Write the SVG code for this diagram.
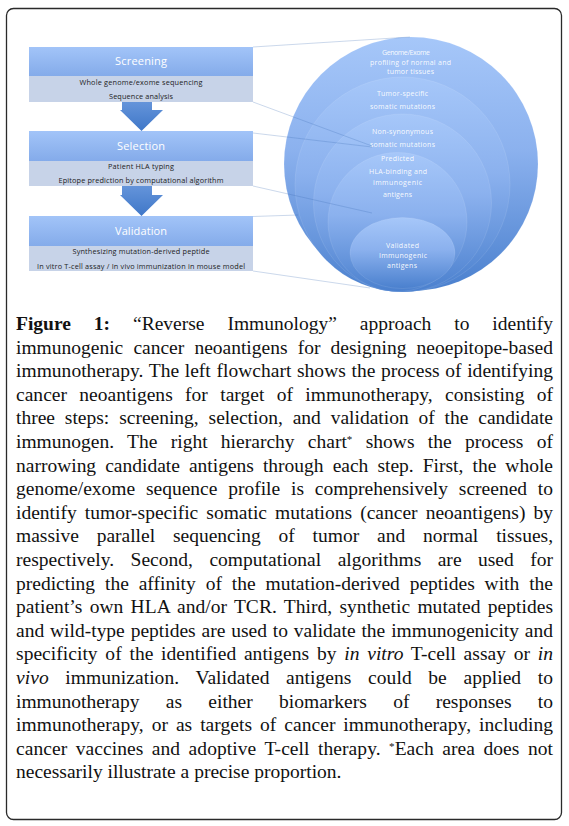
<svg xmlns="http://www.w3.org/2000/svg" width="569" height="826" viewBox="0 0 569 826">
<defs>
<linearGradient id="hdr" x1="0" y1="0" x2="0" y2="1"><stop offset="0" stop-color="#a2c4f8"/><stop offset="1" stop-color="#84abea"/></linearGradient>
<linearGradient id="arr" x1="0" y1="0" x2="0" y2="1"><stop offset="0" stop-color="#6494da"/><stop offset="1" stop-color="#3f77c8"/></linearGradient>
<linearGradient id="circ" x1="0" y1="0" x2="0" y2="1"><stop offset="0" stop-color="#a6c7f9"/><stop offset="0.45" stop-color="#8bb1ee"/><stop offset="1" stop-color="#4a80ce"/></linearGradient>
<style>
.hdr{fill:url(#hdr)}
.body{fill:#c7d3e8}
.arrow{fill:url(#arr)}
.ht{font-family:"Open Sans","Noto Sans",sans-serif;font-size:11px;fill:#ffffff;text-anchor:middle}
.bt{font-family:"Open Sans","Noto Sans",sans-serif;font-size:7.3px;fill:#1c1c1c;text-anchor:middle}
.circ{fill:url(#circ);stroke:#ffffff;stroke-opacity:0.12;stroke-width:0.8}
.ct{font-family:"Open Sans","Noto Sans",sans-serif;font-size:7px;fill:#ffffff;fill-opacity:0.95;text-anchor:middle}
.conn{stroke:#3d6fb5;stroke-opacity:0.3;stroke-width:0.9;fill:none}
.cap{font-family:"Liberation Serif","Times New Roman",serif;font-size:19.5px;fill:#111111}
.b{font-weight:bold}
.i{font-style:italic}
.sup{font-size:11px;baseline-shift:45%}
</style>
</defs>
<rect x="0" y="0" width="569" height="826" fill="#ffffff"/>
<rect id="frame" x="6.5" y="8.5" width="555" height="811" rx="7" ry="7" fill="none" stroke="#2a2a2a" stroke-width="1.3"/>

<g id="screening">
<rect class="hdr" x="29" y="47" width="224" height="29"/>
<rect class="body" x="29" y="76" width="224" height="26"/>
<text class="ht" x="141" y="65" textLength="52">Screening</text>
<text class="bt" x="141" y="84.7" textLength="123">Whole genome/exome sequencing</text>
<text class="bt" x="141" y="98.7" textLength="64">Sequence analysis</text>
</g>
<g id="arrow1"><polygon class="arrow" points="122,102 152,102 152,110 163,110 141.5,131 120,110 122,110"/></g>
<g id="selection">
<rect class="hdr" x="29" y="131" width="224" height="30"/>
<rect class="body" x="29" y="161" width="224" height="25"/>
<text class="ht" x="141" y="150" textLength="48">Selection</text>
<text class="bt" x="141" y="169.3" textLength="66">Patient HLA typing</text>
<text class="bt" x="141" y="183.3" textLength="165">Epitope prediction by computational algorithm</text>
</g>
<g id="arrow2"><polygon class="arrow" points="122,186 152,186 152,195 163,195 141.5,216 120,195 122,195"/></g>
<g id="validation">
<rect class="hdr" x="29" y="216" width="224" height="30"/>
<rect class="body" x="29" y="246" width="224" height="25"/>
<text class="ht" x="141" y="235" textLength="52">Validation</text>
<text class="bt" x="141" y="254.3" textLength="137">Synthesizing mutation-derived peptide</text>
<text class="bt" x="141" y="268.7" textLength="208">In vitro T-cell assay / In vivo immunization in mouse model</text>
</g>

<g id="circle-genome">
<circle class="circ" cx="411" cy="164" r="127"/>
<text class="ct" x="406" y="55.4" textLength="48">Genome/Exome</text>
<text class="ct" x="410.5" y="65.4" textLength="81">profiling of normal and</text>
<text class="ct" x="410.5" y="74.4" textLength="47">tumor tissues</text>
</g>
<g id="circle-tumor">
<circle class="circ" cx="402.5" cy="184.5" r="107.5"/>
<text class="ct" x="402.5" y="96.4" textLength="51">Tumor-specific</text>
<text class="ct" x="402.5" y="109.4" textLength="65">somatic mutations</text>
</g>
<g id="circle-nonsyn">
<circle class="circ" cx="402.5" cy="203" r="89"/>
<text class="ct" x="402.5" y="134.4" textLength="61">Non-synonymous</text>
<text class="ct" x="402.5" y="147.4" textLength="65">somatic mutations</text>
</g>
<g id="circle-predicted">
<circle class="circ" cx="397.5" cy="222" r="69.5"/>
<text class="ct" x="397.5" y="161.4" textLength="33">Predicted</text>
<text class="ct" x="398" y="174.4" textLength="58">HLA-binding and</text>
<text class="ct" x="397.5" y="185" textLength="49">immunogenic</text>
<text class="ct" x="397.5" y="197.4" textLength="29">antigens</text>
</g>
<g id="circle-validated">
<ellipse class="circ" cx="402.5" cy="253" rx="52.5" ry="35.5"/>
<text class="ct" x="402.5" y="248.4" textLength="33">Validated</text>
<text class="ct" x="403" y="258" textLength="48">Immunogenic</text>
<text class="ct" x="402" y="268" textLength="30">antigens</text>
</g>

<g id="connectors">
<line class="conn" x1="253" y1="47" x2="410" y2="37"/>
<line class="conn" x1="253" y1="102" x2="372" y2="146"/>
<line class="conn" x1="253" y1="133" x2="372" y2="147"/>
<line class="conn" x1="253" y1="186" x2="372" y2="213"/>
<line class="conn" x1="253" y1="216.5" x2="298" y2="215"/>
<line class="conn" x1="253" y1="271" x2="370" y2="288"/>
</g>

<g id="caption">
<text class="cap" x="16" y="330" word-spacing="18" textLength="537" lengthAdjust="spacing"><tspan class="b">Figure 1:</tspan> “Reverse Immunology” approach to identify</text>
<text class="cap" x="16" y="353.6" word-spacing="5.3" textLength="537" lengthAdjust="spacing">immunogenic cancer neoantigens for designing neoepitope-based</text>
<text class="cap" x="16" y="377.2" word-spacing="0.7" textLength="537" lengthAdjust="spacing">immunotherapy. The left flowchart shows the process of identifying</text>
<text class="cap" x="16" y="400.8" word-spacing="7.4" textLength="537" lengthAdjust="spacing">cancer neoantigens for target of immunotherapy, consisting of</text>
<text class="cap" x="16" y="424.4" word-spacing="5" textLength="537" lengthAdjust="spacing">three steps: screening, selection, and validation of the candidate</text>
<text class="cap" x="16" y="448" word-spacing="8.4" textLength="537" lengthAdjust="spacing">immunogen. The right hierarchy chart<tspan class="sup">*</tspan> shows the process of</text>
<text class="cap" x="16" y="471.6" word-spacing="4.2" textLength="537" lengthAdjust="spacing">narrowing candidate antigens through each step. First, the whole</text>
<text class="cap" x="16" y="495.2" word-spacing="5.9" textLength="537" lengthAdjust="spacing">genome/exome sequence profile is comprehensively screened to</text>
<text class="cap" x="16" y="518.8" word-spacing="3.2" textLength="537" lengthAdjust="spacing">identify tumor-specific somatic mutations (cancer neoantigens) by</text>
<text class="cap" x="16" y="542.4" word-spacing="13" textLength="537" lengthAdjust="spacing">massive parallel sequencing of tumor and normal tissues,</text>
<text class="cap" x="16" y="566" word-spacing="11.5" textLength="537" lengthAdjust="spacing">respectively. Second, computational algorithms are used for</text>
<text class="cap" x="16" y="589.6" word-spacing="5" textLength="537" lengthAdjust="spacing">predicting the affinity of the mutation-derived peptides with the</text>
<text class="cap" x="16" y="613.2" word-spacing="2.3" textLength="537" lengthAdjust="spacing">patient’s own HLA and/or TCR. Third, synthetic mutated peptides</text>
<text class="cap" x="16" y="636.8" word-spacing="1" textLength="537" lengthAdjust="spacing">and wild-type peptides are used to validate the immunogenicity and</text>
<text class="cap" x="16" y="660.4" word-spacing="2.8" textLength="537" lengthAdjust="spacing">specificity of the identified antigens by <tspan class="i">in vitro</tspan> T-cell assay or <tspan class="i">in</tspan></text>
<text class="cap" x="16" y="684" word-spacing="11.7" textLength="537" lengthAdjust="spacing"><tspan class="i">vivo</tspan> immunization. Validated antigens could be applied to</text>
<text class="cap" x="16" y="707.6" word-spacing="21.4" textLength="537" lengthAdjust="spacing">immunotherapy as either biomarkers of responses to</text>
<text class="cap" x="16" y="731.2" word-spacing="3" textLength="537" lengthAdjust="spacing">immunotherapy, or as targets of cancer immunotherapy, including</text>
<text class="cap" x="16" y="754.8" word-spacing="3.5" textLength="537" lengthAdjust="spacing">cancer vaccines and adoptive T-cell therapy. <tspan class="sup">*</tspan>Each area does not</text>
<text class="cap" x="16" y="778.4">necessarily illustrate a precise proportion.</text>
</g>
</svg>
